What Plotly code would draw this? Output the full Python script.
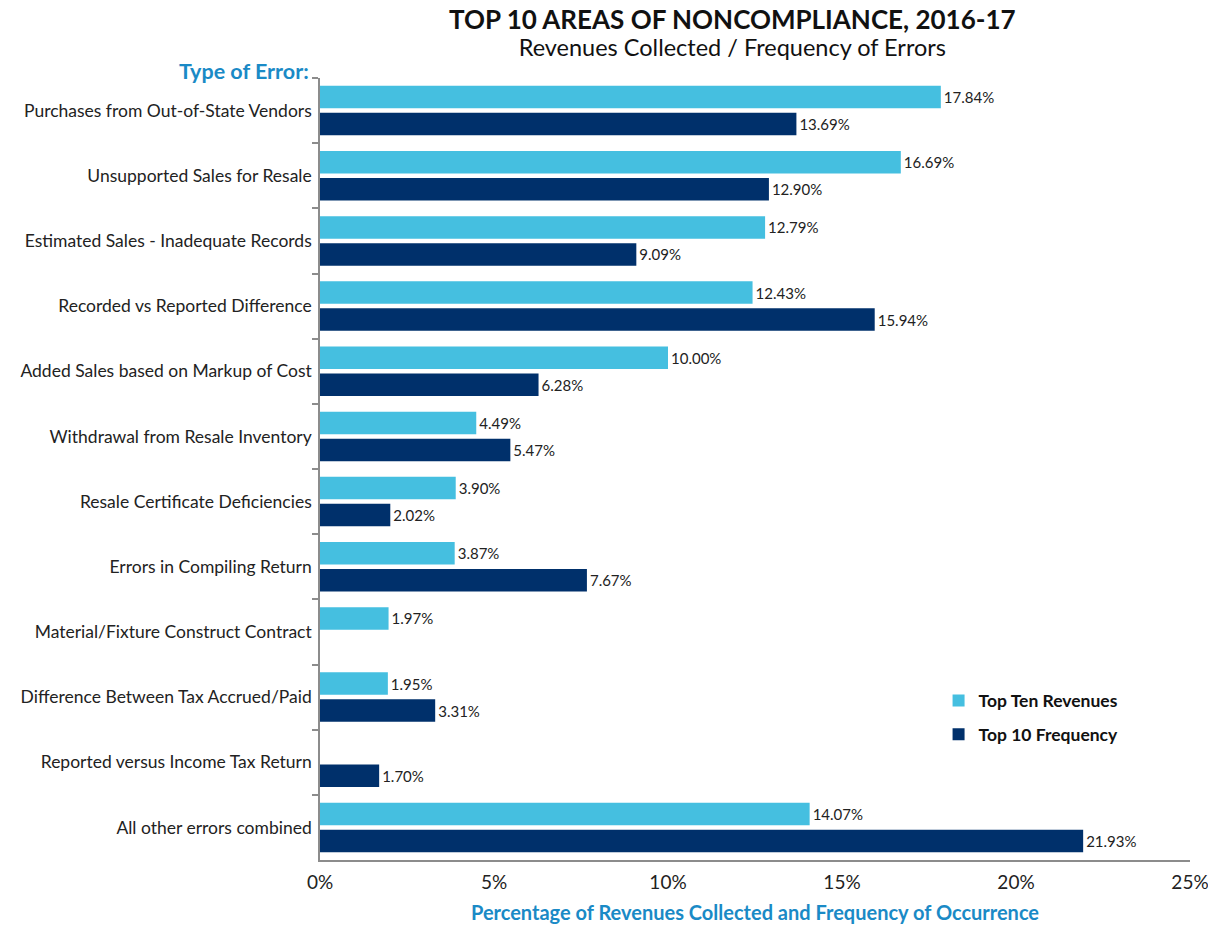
import plotly.graph_objects as go

# Categorias (de arriba a abajo)
categories = [
    'Purchases from Out-of-State Vendors',
    'Unsupported Sales for Resale',
    'Estimated Sales - Inadequate Records',
    'Recorded vs Reported Difference',
    'Added Sales based on Markup of Cost',
    'Withdrawal from Resale Inventory',
    'Resale Certificate Deficiencies',
    'Errors in Compiling Return',
    'Material/Fixture Construct Contract',
    'Difference Between Tax Accrued/Paid',
    'Reported versus Income Tax Return',
    'All other errors combined',
]
revenues = [17.84, 16.69, 12.79, 12.43, 10.00, 4.49, 3.90, 3.87, 1.97, 1.95, None, 14.07]
frequency = [13.69, 12.90, 9.09, 15.94, 6.28, 5.47, 2.02, 7.67, None, 3.31, 1.70, 21.93]
x_ticks = [0, 5, 10, 15, 20, 25]
x_tick_labels = ['0%', '5%', '10%', '15%', '20%', '25%']

LIGHT = '#45BFE0'
NAVY = '#00306B'
BLUE_TXT = '#1A8AC6'
FONT = 'Lato, Open Sans, sans-serif'
BAR_W = 0.345

fig = go.Figure()

# eje invertido: offset negativo queda arriba
fig.add_trace(go.Bar(
    y=categories, x=revenues, orientation='h', name='Top Ten Revenues',
    legendgroup='rev', width=BAR_W, offset=-0.38,
    marker=dict(color=LIGHT, line=dict(width=0)),
    texttemplate='%{x:.2f}%', textposition='outside', cliponaxis=False,
    textfont=dict(size=15, color='#222222'),
))
fig.add_trace(go.Bar(
    y=categories, x=frequency, orientation='h', name='Top 10 Frequency',
    legendgroup='freq', width=BAR_W, offset=0.035,
    marker=dict(color=NAVY, line=dict(width=0)),
    texttemplate='%{x:.2f}%', textposition='outside', cliponaxis=False,
    textfont=dict(size=15, color='#222222'),
))

# la pagina tiene 8px de margen, por eso el tamaño es algo menor que la ventana
fig.update_layout(
    width=1208, height=916,
    font=dict(family=FONT, size=17, color='#222222'),
    plot_bgcolor='white', paper_bgcolor='white',
    margin=dict(l=312, r=26, t=70, b=64, autoexpand=False),
    barmode='group',
    showlegend=True,
    legend=dict(
        x=0.711, y=0.182, xanchor='left', yanchor='middle',
        font=dict(size=17.5, color='#111111', weight='bold'),
        traceorder='grouped', itemsizing='constant', tracegroupgap=8,
        bgcolor='rgba(0,0,0,0)',
    ),
    xaxis=dict(
        range=[0, 25], tickvals=x_ticks, ticktext=x_tick_labels,
        showgrid=False, zeroline=False, showline=True, automargin=False,
        linecolor='#8C8C8C', linewidth=1.5, ticks='',
        tickfont=dict(size=19, color='#222222'), ticklabelstandoff=4,
        title=dict(
            text='Percentage of Revenues Collected and Frequency of Occurrence',
            font=dict(size=20, color=BLUE_TXT, weight='bold'), standoff=32,
        ),
    ),
    yaxis=dict(
        autorange='reversed', showgrid=False, zeroline=False, automargin=False,
        showline=True, linecolor='#8C8C8C', linewidth=1.5,
        ticks='outside', tickson='boundaries', ticklen=6,
        tickcolor='#8C8C8C', tickwidth=1.5,
        tickfont=dict(size=17.5, color='#222222'), ticklabelstandoff=3,
    ),
)

# titulo y subtitulo en una sola anotacion (dos lineas)
fig.add_annotation(
    text=('<span style="font-size:26px"><b>TOP 10 AREAS OF NONCOMPLIANCE, 2016-17</b></span>'
          '<br><span style="font-size:23.5px">Revenues Collected / Frequency of Errors</span>'),
    xref='paper', yref='paper', x=0.474, y=1.059,
    xanchor='center', yanchor='middle', showarrow=False, borderpad=0,
    font=dict(size=21, color='#111111'))
fig.add_annotation(text='Type of Error:', xref='paper', yref='paper',
                   x=-0.010, y=1.009, xanchor='right', yanchor='middle',
                   showarrow=False,
                   font=dict(size=21.5, color=BLUE_TXT, weight='bold'))

fig.write_html('out.html')
